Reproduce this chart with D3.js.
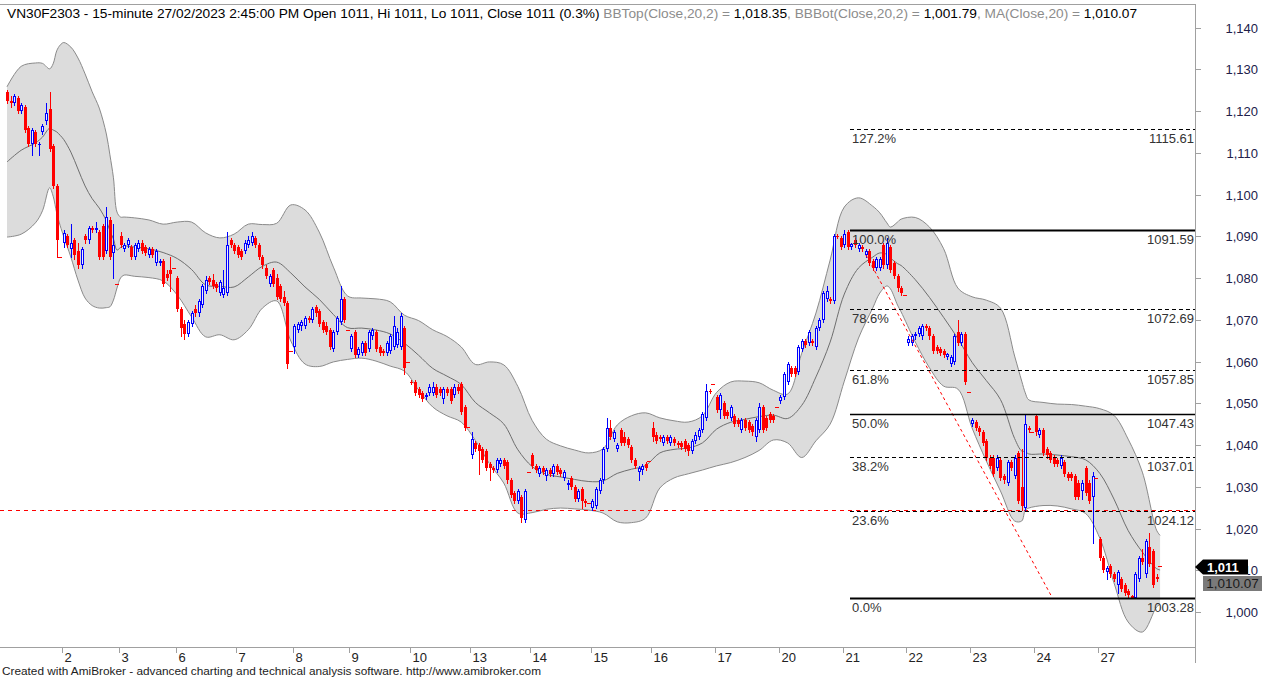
<!DOCTYPE html>
<html>
<head>
<meta charset="utf-8">
<script src="https://cdn.jsdelivr.net/npm/d3@7"></script>
<style>
  body { margin: 0; background: #fff; }
  svg { display: block; }
  text { font-family: Arial, "Liberation Sans", sans-serif; }
</style>
</head>
<body>
<svg id="chart" width="1266" height="677"></svg>
<script>
// ---------------- data ----------------
const dayLabels = ["1","2","3","6","7","8","9","10","13","14","15","16","17","20","21","22","23","24","27"];
const barsPerDay = [16,16,16,17,16,16,17,17,17,17,17,18,18,18,18,18,18,18,18];

// [open, high, low, close], 15-minute bars
const ohlc = [
  // 1
  [1124.5,1125,1122,1122.5],[1122.5,1123.5,1121,1122],[1122,1124,1121.5,1123.5],[1123,1123.5,1119.5,1120],
  [1120,1122,1119.5,1121.5],[1121,1121.5,1115,1115.5],[1116,1116.5,1111.5,1112],[1112,1116,1109.5,1115.5],
  [1115,1115.5,1111.5,1112],[1111.8,1112.5,1109.5,1112],[1115,1117,1114.5,1116.5],[1117.5,1122,1117,1119.5],
  [1120.5,1124.5,1110.5,1111],[1111.5,1112,1101.5,1102],[1102,1102.5,1085,1089],[1085,1085,1085,1085],
  // 2
  [1088.5,1091.5,1087.5,1090.8],[1090,1090.5,1087.5,1088],[1087,1093,1085,1088.5],[1089,1089.5,1084.5,1085.5],
  [1086.5,1088.5,1082.5,1083],[1083,1087.5,1082.5,1087],[1090,1090.5,1088.5,1089],[1089,1092.5,1088.5,1092],
  [1092,1092.5,1091,1091.5],[1091.5,1093.5,1091,1092],[1091,1091.5,1084.5,1085],[1092.5,1093,1084.5,1085],
  [1086.5,1097,1086,1094.5],[1094,1094.5,1084.5,1085],[1086,1093,1080,1088],[1078.5,1078.5,1078.5,1078.5],
  // 3
  [1090,1091,1087.5,1088],[1087,1088.5,1086.5,1088],[1088,1089.5,1087.5,1089],[1087.5,1088,1084.5,1085],
  [1085,1088.5,1084.5,1088],[1087,1089,1086.5,1088.5],[1088.5,1089,1086,1086.5],[1087.5,1088,1085.5,1086],
  [1085.5,1087.5,1085,1087],[1087,1087.5,1085,1085.5],[1083.5,1087,1083,1086.5],[1083.5,1084.5,1083,1084],
  [1084,1084.5,1078,1078.5],[1081,1082,1079.5,1080],[1082,1085,1077,1081],[1082.5,1082.5,1082.5,1082.5],
  // 6
  [1080,1080.5,1072,1072.5],[1072.5,1073,1066,1068],[1069,1070,1065.5,1066.5],[1066.5,1070,1066,1069.5],
  [1069,1072,1068.5,1071.5],[1072.5,1073.5,1071,1071.5],[1071.5,1075,1071,1074.5],[1073.5,1078.5,1073,1078],
  [1077,1080.5,1076.5,1079.5],[1080,1080.5,1078.5,1079],[1079.5,1081,1077.5,1078],[1078.5,1079,1077,1077.5],
  [1076.5,1079.5,1076,1079],[1076,1082,1075.5,1077.5],[1076.5,1091,1076,1088],[1089,1089.5,1087.5,1088],
  [1088,1088.5,1086,1086.5],
  // 7
  [1087.5,1088,1085,1085.5],[1086.5,1087,1084.5,1085],[1086.5,1089,1086,1088.5],[1088,1090,1087.5,1089],
  [1088.5,1091,1088,1090],[1089.5,1090,1087.5,1088],[1088,1088.5,1084.5,1085],[1085,1085.5,1082.5,1083],
  [1082.5,1083,1080,1080.5],[1078.5,1081,1078,1080.5],[1082,1082.5,1078,1078.5],[1080,1081,1075,1075.5],
  [1078,1078.5,1074.5,1075],[1075.5,1077,1073.5,1074],[1074,1074.5,1058.5,1059.5],[1062.5,1062.5,1062.5,1062.5],
  // 8
  [1063.5,1069,1062,1068.5],[1067.5,1069.5,1067,1069],[1068.5,1070,1067.5,1069.5],[1068.5,1071,1068,1070.5],
  [1070.5,1071,1069.5,1070],[1070,1073,1069.5,1072.5],[1073,1073.5,1071,1071.5],[1072,1072.5,1068.5,1069],
  [1069.5,1070,1067,1067.5],[1068.5,1069.5,1066.5,1067],[1067.5,1068,1063,1063.5],[1063,1067.5,1062.5,1067],
  [1067,1071,1066.5,1070.5],[1069.5,1078,1069,1075],[1075,1075.5,1069.5,1070],[1067.5,1067.5,1067.5,1067.5],
  // 9
  [1063,1066.5,1062.5,1066],[1067,1067.5,1061,1061.5],[1061.5,1063.5,1061,1063],[1062,1065,1061.5,1064.5],
  [1064.5,1065,1061.5,1062],[1063,1067.5,1062.5,1067],[1066,1068,1065.5,1067.5],[1067,1067.5,1062.5,1063],
  [1063.5,1064,1061.5,1062],[1062.5,1063,1061.5,1062],[1062,1065,1061.5,1064.5],[1062.5,1066.5,1062,1066],
  [1063.5,1071,1063,1068.5],[1064,1068,1063.5,1067],[1063.5,1071.5,1063,1071],[1068,1068.5,1057,1058.5],
  [1060,1060,1060,1060],
  // 10
  [1055,1055.5,1054.5,1054.8],[1055,1055.5,1052,1052.5],[1053.5,1054,1051.5,1052],[1052.5,1053,1050.5,1051],
  [1051.5,1052.5,1051,1052],[1052.5,1054.5,1052,1054],[1052.5,1055,1052,1054],[1054,1054.5,1051.5,1052],
  [1053.5,1054,1052,1052.5],[1051,1054,1050,1053.5],[1053.5,1054,1052,1052.5],[1053.5,1054,1050,1050.5],
  [1052,1054.5,1051.5,1054],[1054,1054.5,1052.5,1053],[1054.5,1055,1047.5,1048],[1049,1049.5,1043.5,1044],
  [1044.3,1044.3,1044.3,1044.3],
  // 13
  [1037.5,1043,1037,1041.5],[1040.5,1041,1038.5,1039],[1040,1040.5,1033,1038.5],[1039,1039.5,1036,1036.5],
  [1038.5,1039,1034,1034.5],[1035.5,1036,1031.5,1034.5],[1034.5,1035,1033.5,1034],[1034,1037,1033.5,1036.5],
  [1035.5,1037,1035,1036.5],[1036.5,1037,1034.5,1035],[1036,1036.5,1031,1031.5],[1031.5,1032,1027.5,1028],
  [1028.5,1029,1026,1026.5],[1026.5,1029.5,1026,1029],[1027.5,1028,1021.5,1022.5],[1022,1029.5,1021.5,1029],
  [1033.5,1033.5,1033.5,1033.5],
  // 14
  [1037.5,1038,1034.5,1035],[1035,1035.5,1033.5,1034],[1033,1035,1032.5,1034.5],[1034.5,1035,1033,1033.5],
  [1032.5,1034.5,1031.5,1034],[1034,1034.5,1032.5,1033],[1033,1035.5,1032.5,1035],[1035,1035.5,1033,1033.5],
  [1034,1034.5,1032.5,1033],[1032,1034,1031.5,1033.5],[1030.5,1031.5,1029.5,1031],[1032,1032.5,1029.5,1030],
  [1030,1030.5,1026.5,1027],[1027,1029.5,1026.5,1029],[1029.5,1030,1025,1026.5],[1026.5,1027,1025.5,1026],
  [1026,1026,1026,1026],
  // 15
  [1025,1027,1024.5,1026.5],[1025.5,1030,1025,1029.5],[1029,1032,1028.5,1031.5],[1031.5,1039.5,1031,1039],
  [1039,1046.5,1038.5,1044],[1044,1046,1041.5,1042],[1041.5,1043.5,1041,1043],[1039,1040.5,1038.5,1040],
  [1043.5,1044,1040,1040.5],[1042,1043,1040,1040.5],[1041.5,1042,1039.5,1040],[1039.5,1040,1036,1036.5],
  [1036.5,1037,1034.5,1035],[1033.5,1035,1031.5,1034.5],[1034,1035.5,1033,1035],[1035.5,1036,1034,1034.5],
  [1036.2,1036.2,1036.2,1036.2],
  // 16
  [1044,1045.5,1041,1042],[1042.5,1043,1040.5,1041],[1042,1042.5,1041,1041.5],[1040.5,1042.5,1040,1042],
  [1042,1042.5,1040.5,1041],[1040.5,1042.5,1040,1042],[1041.5,1042,1040,1040.5],[1040.5,1041,1039.5,1040],
  [1040.5,1041,1039,1039.5],[1041,1041.5,1038.5,1039],[1040,1040.5,1037.5,1038.5],[1038.5,1041.5,1038,1041],
  [1041,1043,1040.5,1042.5],[1042,1044,1041.5,1043.5],[1043.5,1048,1043,1047.5],[1046.5,1054.5,1046,1053],
  [1053,1053.5,1052.5,1052.8],[1054.5,1054.5,1054.5,1054.5],
  // 17
  [1051.5,1052,1048,1048.5],[1048.5,1052.5,1046.5,1052],[1050,1050.5,1046.5,1047],[1048,1048.5,1046.5,1047],
  [1046.5,1049.5,1046,1049],[1047,1047.5,1044.5,1045],[1046,1046.5,1044.5,1045],[1043.5,1046.5,1043,1046],
  [1046,1046.5,1043.5,1044],[1045.5,1046,1043,1043.5],[1044.5,1045,1042.5,1043],[1042,1046.5,1041,1046],
  [1043.5,1050,1043,1049],[1049,1049.5,1043,1043.5],[1046.5,1047,1043.5,1044],[1047.5,1048,1045.5,1046],
  [1047,1047.5,1045.5,1046],[1049,1049,1049,1049],
  // 20
  [1050.5,1052,1050,1051.5],[1051.5,1057.5,1051,1057],[1055,1060,1054.5,1059.5],[1058.5,1059,1056.5,1057],
  [1058.5,1059,1056.5,1057],[1057.5,1064,1057,1063.5],[1063,1065.5,1062.5,1065],[1065,1065.5,1063.5,1064],
  [1064.5,1067.5,1064,1067],[1065,1065.5,1064,1064.5],[1063.5,1068.5,1063,1068],[1068,1070.5,1067.5,1070],
  [1070,1077,1069.5,1076.5],[1075,1078,1074.5,1077],[1075,1075.5,1074,1074.5],[1074.5,1090.5,1074,1090],
  [1090,1090.5,1089.5,1089.8],[1089.5,1090,1087,1087.5],
  // 21
  [1088,1091.59,1087.5,1090.5],[1091,1091.5,1087,1087.5],[1087.5,1088.5,1087,1088.2],[1089,1089.5,1087.5,1088],
  [1087,1088.5,1086.5,1088],[1087.5,1088,1086.5,1087],[1085.5,1087,1085,1086.5],[1086.5,1087,1083,1083.5],
  [1084,1084.5,1082,1082.5],[1082.5,1085,1082,1084.5],[1082.5,1085,1082,1084.5],[1088,1088.5,1082.5,1083],
  [1083,1089.5,1082.5,1088.5],[1087.5,1088,1081.5,1082],[1083.5,1084,1080,1080.5],[1080.5,1081,1077,1077.5],
  [1077.5,1078,1076,1076.5],[1076,1076,1076,1076],
  // 22
  [1064.5,1066,1064,1065.5],[1064.5,1066.5,1064,1066],[1066,1067,1065.5,1066.5],[1066.5,1068.5,1066,1068],
  [1066,1069,1065.5,1068.5],[1068.5,1069,1067.5,1068],[1068,1068.5,1065.5,1066],[1066,1066.5,1062,1062.5],
  [1063.5,1064,1062,1062.5],[1063,1063.5,1061.5,1062],[1062.5,1063,1061,1061.5],[1061,1062,1060.5,1061.8],
  [1059.5,1061.5,1059,1061],[1060,1066.5,1059.5,1066],[1067,1070,1064,1064.5],[1064.5,1067,1064,1066.5],
  [1066.5,1067,1054.5,1055],[1052.7,1052.7,1052.7,1052.7],
  // 23
  [1045,1046.5,1044.5,1046],[1045.5,1046,1043.5,1044],[1044,1044.5,1042.5,1043],[1043,1043.5,1040,1040.5],
  [1041,1041.5,1036.5,1037],[1037,1037.5,1034.5,1035],[1037,1037.5,1032.5,1033],[1034.5,1037.5,1034,1037],
  [1036.5,1037,1031.5,1032],[1032.5,1033,1031,1031.5],[1031,1036.5,1030.5,1036],[1036,1036.5,1034,1034.5],
  [1032.5,1037.5,1032,1037],[1038,1038.5,1026,1026.5],[1030,1039,1024.5,1025.5],[1025,1047.5,1024.5,1045],
  [1044,1044.5,1043,1043.5],[1043,1043,1043,1043],
  // 24
  [1047,1047.5,1042.5,1043],[1042.5,1044,1042,1043.5],[1043.5,1044,1037.5,1038],[1039,1039.5,1037,1037.5],
  [1038,1038.5,1036,1036.5],[1037,1037.5,1035,1035.5],[1036.5,1037,1035,1035.5],[1035,1037.5,1034.5,1037],
  [1036,1036.5,1032.5,1033],[1033,1033.5,1031.5,1032],[1033,1033.5,1031.5,1032],[1032.5,1033,1027,1027.5],
  [1031,1031.5,1027,1027.5],[1029,1031.5,1027,1031],[1034.5,1035,1028,1028.5],[1031,1031.5,1026,1026.5],
  [1027.5,1033.5,1016.5,1032.5],[1032,1032,1032,1032],
  // 27
  [1017.5,1018,1012.5,1013],[1013,1013.5,1009.5,1010],[1009.5,1011,1008,1010.5],[1011,1011.5,1008.5,1009],
  [1009,1009.5,1007.5,1008],[1006.5,1010,1004.5,1009.5],[1008,1008.5,1005,1005.5],[1006.5,1007,1004,1004.5],
  [1005,1005.5,1003.5,1004],[1003.8,1004,1003.28,1003.4],[1003.4,1009.5,1003.28,1009],[1008,1013.5,1007.5,1013],
  [1013,1015,1011.5,1012],[1009,1017.5,1008.5,1017],[1015.5,1019,1011,1011.5],[1014.5,1015,1006,1006.5],
  [1008.5,1009,1007.5,1008],[1011,1011,1011,1011]
];

// Bollinger bands (20,2), sampled at bar index
const bbIndex = [0,4,8,10,12,13,14,15,16,18,20,22,24,26,28,29,30,31,32,33,36,40,44,48,52,56,60,64,68,72,76,80,
  84,88,92,96,100,104,108,112,116,120,124,128,132,136,140,144,148,152,156,160,164,168,172,176,180,184,188,192,196,
  200,204,208,212,216,220,224,228,232,236,240,244,246,248,249,251,252,256,260,264,268,272,276,280,284,286,287,288,
  292,296,300,304,308,312,316,320,324,325];
const bbTop = [1125.8,1130.7,1131.5,1131.4,1130.1,1131.3,1134.4,1135.8,1136.4,1135.3,1132.7,1128.9,1124.6,1120.7,
  1114.5,1109.5,1104.0,1095.8,1094.6,1094.6,1094.4,1093.9,1092.9,1093.4,1093.4,1090.8,1089.6,1090.5,1092.9,1092.8,
  1093.1,1097.5,1096.3,1091.0,1082.6,1075.7,1075.2,1075.0,1074.3,1071.1,1069.8,1067.6,1066.0,1063.5,1059.3,1059.9,
  1059.2,1054.0,1045.9,1041.4,1039.8,1038.8,1038.1,1039.1,1044.8,1047.0,1047.7,1046.5,1045.8,1045.5,1047.0,1052.6,
  1055.1,1055.3,1054.9,1053.1,1052.2,1062.0,1071.6,1084.3,1097.0,1099.2,1097.2,1095.6,1093.2,1092.2,1093.4,1094.1,
  1094.5,1092.2,1087.0,1077.6,1075.5,1074.7,1072.8,1061.3,1055.3,1052.5,1050.8,1050.2,1049.8,1049.7,1049.3,1048.7,
  1047.1,1041.4,1033.5,1019.6,1018.35];
const bbBot = [1089.8,1090.5,1093.2,1096.1,1101.6,1099.6,1095.6,1092.5,1089.9,1085.0,1079.5,1075.2,1073.4,1072.8,
  1072.9,1073.1,1074.7,1077.6,1080.0,1080.7,1080.4,1080.1,1079.3,1075.9,1070.7,1065.9,1066.4,1065.2,1067.6,1072.8,
  1074.5,1064.9,1059.4,1058.8,1059.9,1060.5,1060.8,1060.1,1058.9,1057.7,1053.2,1049.1,1047.0,1045.5,1041.1,1035.5,
  1030.9,1023.7,1023.8,1024.6,1024.9,1024.7,1024.4,1023.7,1021.6,1021.4,1022.5,1029.7,1032.1,1033.1,1034.0,1035.0,
  1035.8,1037.0,1038.7,1041.2,1040.5,1037.0,1041.0,1045.0,1055.3,1065.6,1072.8,1076.4,1078.1,1077.4,1073.5,1071.9,
  1064.7,1058.5,1054.1,1053.4,1044.1,1036.2,1029.0,1021.8,1021.8,1024.4,1024.9,1025.5,1025.4,1024.7,1023.6,1017.7,
  1007.0,997.6,995.2,1001.2,1001.79];

// Fibonacci retracement
const fibLabels = ["0.0%","23.6%","38.2%","50.0%","61.8%","78.6%","100.0%","127.2%"];
const fibValues = [1003.28,1024.12,1037.01,1047.43,1057.85,1072.69,1091.59,1115.61];
const fibSolid = [true,false,false,true,false,false,true,false];

// drawn lines: horizontal level and trend line [barIndex, price]
const hLevel = 1024.35;
const trendLine = [[242.1,1085.5],[294.5,1003.6]];

const yTicks = [1000,1010,1020,1030,1040,1050,1060,1070,1080,1090,1100,1110,1120,1130,1140];
const lastPrice = 1011, lastMA = 1010.07;

// ---------------- chart ----------------
const plotRight = 1195, axisY = 647;
const svg = d3.select("#chart");

const x = d3.scaleLinear().domain([15.5, 307.5]).range([62, 1098]);
const y = d3.scaleLinear().domain([1000, 1140]).range([612, 27.5]);

// bollinger band
const band = bbIndex.map((i, k) => ({i: i, top: bbTop[k], bot: bbBot[k], mid: (bbTop[k] + bbBot[k]) / 2}));
const curve = d3.curveCatmullRom.alpha(0.5);

svg.append("path")
   .attr("d", d3.area().x(d => x(d.i)).y0(d => y(d.bot)).y1(d => y(d.top)).curve(curve)(band))
   .attr("fill", "#dcdcdc");
["top", "bot"].forEach(k => {
  svg.append("path")
     .attr("d", d3.line().x(d => x(d.i)).y(d => y(d[k])).curve(curve)(band))
     .attr("fill", "none").attr("stroke", "#8a8a8a").attr("stroke-width", 1);
});
svg.append("path")
   .attr("d", d3.line().x(d => x(d.i)).y(d => y(d.mid)).curve(curve)(band))
   .attr("fill", "none").attr("stroke", "#6e6e6e").attr("stroke-width", 1);

// red dashed level
svg.append("line")
   .attr("x1", 0).attr("x2", plotRight)
   .attr("y1", Math.round(y(hLevel)) + 0.5).attr("y2", Math.round(y(hLevel)) + 0.5)
   .attr("stroke", "#ff0000").attr("stroke-dasharray", "4,4");

// candles
const candles = svg.append("g").attr("shape-rendering", "crispEdges");
ohlc.forEach((d, i) => {
  const [o, h, l, c] = d;
  const xc = Math.round(x(i));
  const up = c > o;
  const col = up ? "#0000ff" : "#ff0000";
  if (h === l) {
    candles.append("rect").attr("x", xc - 2).attr("y", Math.round(y(c))).attr("width", 4).attr("height", 1).attr("fill", col);
    return;
  }
  candles.append("line")
     .attr("x1", xc + 0.5).attr("x2", xc + 0.5)
     .attr("y1", Math.round(y(h))).attr("y2", Math.round(y(l)) + 1)
     .attr("stroke", col);
  const top = Math.round(y(Math.max(o, c)));
  const hgt = Math.max(1, Math.round(y(Math.min(o, c))) - top);
  if (up && hgt > 2) {
    candles.append("rect").attr("x", xc - 0.5).attr("y", top + 0.5).attr("width", 2).attr("height", hgt - 1)
       .attr("fill", "#eeeeff").attr("stroke", col);
  } else {
    candles.append("rect").attr("x", xc - 1).attr("y", top).attr("width", 3).attr("height", hgt).attr("fill", col);
  }
});

// trend line
svg.append("line")
   .attr("x1", x(trendLine[0][0])).attr("y1", y(trendLine[0][1]))
   .attr("x2", x(trendLine[1][0])).attr("y2", y(trendLine[1][1]))
   .attr("stroke", "#ff0000").attr("stroke-dasharray", "3,3");

// fibonacci levels
const fibX0 = x(237.6);
fibValues.forEach((v, k) => {
  const yy = Math.round(y(v));
  svg.append("line")
     .attr("x1", fibX0).attr("x2", plotRight)
     .attr("y1", yy + 0.5).attr("y2", yy + 0.5)
     .attr("stroke", "#000")
     .attr("stroke-width", k === 0 || k === 6 ? 2 : (k === 3 ? 1.5 : 1))
     .attr("stroke-dasharray", fibSolid[k] ? null : "4,3");
  svg.append("text").attr("x", fibX0 + 2).attr("y", yy + 14)
     .attr("font-size", 13).attr("fill", "#333").text(fibLabels[k]);
  svg.append("text").attr("x", plotRight - 1).attr("y", yy + 14).attr("text-anchor", "end")
     .attr("font-size", 13).attr("fill", "#333").text(v.toFixed(2));
});

// frame + axes
const frame = svg.append("g").attr("stroke", "#a0a0a0").attr("shape-rendering", "crispEdges");
frame.append("line").attr("x1", 0).attr("x2", plotRight + 0.5).attr("y1", 4.5).attr("y2", 4.5);
frame.append("line").attr("x1", plotRight + 0.5).attr("x2", plotRight + 0.5).attr("y1", 4.5).attr("y2", 663);
frame.append("line").attr("x1", 0).attr("x2", plotRight).attr("y1", axisY + 0.5).attr("y2", axisY + 0.5);

// price labels; the one under the last-price marker is clipped like in the picture
svg.append("clipPath").attr("id", "labelClip")
   .append("rect").attr("x", 1248).attr("y", 540).attr("width", 20).attr("height", 40);
yTicks.forEach(v => {
  const yy = Math.round(y(v)) + 0.5;
  frame.append("line").attr("x1", plotRight).attr("x2", plotRight + 6).attr("y1", yy).attr("y2", yy);
  const t = svg.append("text").attr("x", 1258).attr("y", yy + 4.5).attr("text-anchor", "end")
     .attr("font-size", 13).attr("fill", "#20204a").text(d3.format(",")(v));
  if (Math.abs(v - lastPrice) < 5) t.attr("clip-path", "url(#labelClip)");
});

let start = 0;
dayLabels.forEach((lab, k) => {
  if (k > 0) {
    const xt = Math.round(x(start - 0.5)) + 0.5;
    frame.append("line").attr("x1", xt).attr("x2", xt).attr("y1", axisY).attr("y2", axisY + 6);
    svg.append("text").attr("x", xt + 2).attr("y", 662).attr("font-size", 13).attr("fill", "#222").text(lab);
  }
  start += barsPerDay[k];
});

// last price / MA markers
const yl = Math.round(y(lastPrice)) + 1;
svg.append("path")
   .attr("d", `M${plotRight},${yl} L${plotRight + 8},${yl - 7.5} L1248,${yl - 7.5} L1248,${yl + 7.5} L${plotRight + 8},${yl + 7.5} Z`)
   .attr("fill", "#000");
svg.append("text").attr("x", 1207).attr("y", yl + 5).attr("font-size", 13).attr("font-weight", "bold")
   .attr("fill", "#fff").text(d3.format(",")(lastPrice));
svg.append("rect").attr("x", 1203).attr("y", yl + 9).attr("width", 59).attr("height", 15).attr("fill", "#7a7a7a");
svg.append("text").attr("x", 1232.5).attr("y", yl + 21).attr("text-anchor", "middle").attr("font-size", 13.5)
   .attr("fill", "#1a1a1a").text(d3.format(",.2f")(lastMA));

// title line
const title = svg.append("text").attr("x", 7).attr("y", 18).attr("font-size", 13.7);
[["VN30F2303 - 15-minute 27/02/2023 2:45:00 PM Open 1011, Hi 1011, Lo 1011, Close 1011 (0.3%) ", "#000"],
 ["BBTop(Close,20,2) = ", "#8c8c8c"], ["1,018.35", "#000"],
 [", BBBot(Close,20,2) = ", "#8c8c8c"], ["1,001.79", "#000"],
 [", MA(Close,20) = ", "#8c8c8c"], ["1,010.07", "#000"]].forEach(s => {
  title.append("tspan").attr("fill", s[1]).text(s[0]);
});

svg.append("text").attr("x", 2).attr("y", 675).attr("font-size", 11.8).attr("fill", "#222")
   .text("Created with AmiBroker - advanced charting and technical analysis software. http://www.amibroker.com");
</script>
</body>
</html>
